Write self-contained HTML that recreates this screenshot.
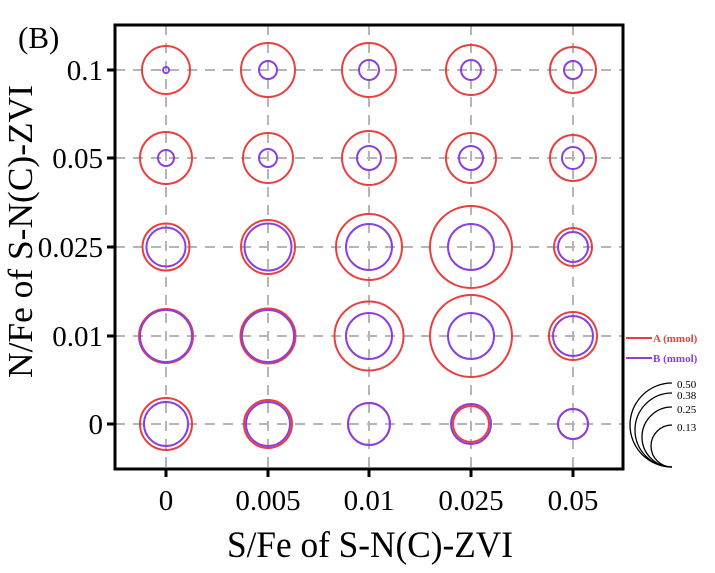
<!DOCTYPE html>
<html><head><meta charset="utf-8"><style>html,body{margin:0;padding:0;background:#fff}svg{display:block}text{font-family:"Liberation Serif",serif}</style></head>
<body>
<svg width="715" height="573" viewBox="0 0 715 573" xmlns="http://www.w3.org/2000/svg">
<rect width="715" height="573" fill="#fff"/>
<g stroke="#b5b5b5" stroke-width="2" stroke-dasharray="10,8">
<line x1="115" y1="70" x2="623" y2="70"/><line x1="115" y1="158" x2="623" y2="158"/><line x1="115" y1="247" x2="623" y2="247"/><line x1="115" y1="336" x2="623" y2="336"/><line x1="115" y1="424" x2="623" y2="424"/>
<line x1="166" y1="25" x2="166" y2="469"/><line x1="268" y1="25" x2="268" y2="469"/><line x1="369" y1="25" x2="369" y2="469"/><line x1="471" y1="25" x2="471" y2="469"/><line x1="573" y1="25" x2="573" y2="469"/>
</g>
<g fill="none" stroke-width="2">
<g stroke="#e8403f">
<circle cx="166" cy="70" r="24"/><circle cx="268" cy="70" r="27"/><circle cx="369" cy="70" r="27"/><circle cx="471" cy="70" r="25"/><circle cx="573" cy="70" r="23"/>
<circle cx="166" cy="158" r="26"/><circle cx="268" cy="158" r="25"/><circle cx="369" cy="158" r="27"/><circle cx="471" cy="158" r="25"/><circle cx="573" cy="158" r="23"/>
<circle cx="166" cy="247" r="23.5"/><circle cx="268" cy="247" r="27"/><circle cx="369" cy="247" r="33"/><circle cx="471" cy="247" r="41"/><circle cx="573" cy="247" r="19"/>
<circle cx="166" cy="336" r="27"/><circle cx="268" cy="336" r="27.5"/><circle cx="369" cy="336" r="34.5"/><circle cx="471" cy="336" r="41"/><circle cx="573" cy="336" r="24"/>
<circle cx="166" cy="424" r="26"/><circle cx="268" cy="424" r="24"/><circle cx="369" cy="424" r="21"/><circle cx="471" cy="424" r="18"/><circle cx="573" cy="424" r="15"/>
</g>
<g stroke="#8a3fe0">
<circle cx="166" cy="70" r="3"/><circle cx="268" cy="70" r="9"/><circle cx="369" cy="70" r="10"/><circle cx="471" cy="70" r="10"/><circle cx="573" cy="70" r="9"/>
<circle cx="166" cy="158" r="8"/><circle cx="268" cy="158" r="9"/><circle cx="369" cy="158" r="12"/><circle cx="471" cy="158" r="12"/><circle cx="573" cy="158" r="11"/>
<circle cx="166" cy="247" r="19.5"/><circle cx="268" cy="247" r="23.5"/><circle cx="369" cy="247" r="23"/><circle cx="471" cy="247" r="23"/><circle cx="573" cy="247" r="15"/>
<circle cx="166" cy="336" r="26"/><circle cx="268" cy="336" r="26"/><circle cx="369" cy="336" r="23"/><circle cx="471" cy="336" r="23"/><circle cx="573" cy="336" r="20"/>
<circle cx="166" cy="424" r="22"/><circle cx="268" cy="424" r="22"/><circle cx="369" cy="424" r="21"/><circle cx="471" cy="424" r="20"/><circle cx="573" cy="424" r="15"/>
</g>
</g>
<rect x="115" y="25" width="508" height="444" fill="none" stroke="#000" stroke-width="3"/>
<g stroke="#000" stroke-width="3">
<line x1="107" y1="70" x2="115" y2="70"/><line x1="107" y1="158" x2="115" y2="158"/><line x1="107" y1="247" x2="115" y2="247"/><line x1="107" y1="336" x2="115" y2="336"/><line x1="107" y1="424" x2="115" y2="424"/>
<line x1="166" y1="469" x2="166" y2="477"/><line x1="268" y1="469" x2="268" y2="477"/><line x1="369" y1="469" x2="369" y2="477"/><line x1="471" y1="469" x2="471" y2="477"/><line x1="573" y1="469" x2="573" y2="477"/>
</g>
<g font-size="29" fill="#000" text-anchor="end">
<text x="103" y="80">0.1</text><text x="103" y="168">0.05</text><text x="103" y="257">0.025</text><text x="103" y="346">0.01</text><text x="103" y="434">0</text>
</g>
<g font-size="29" fill="#000" text-anchor="middle">
<text x="166" y="510">0</text><text x="268" y="510">0.005</text><text x="369" y="510">0.01</text><text x="471" y="510">0.025</text><text x="573" y="510">0.05</text>
</g>
<text x="227" y="557" font-size="37" textLength="286" lengthAdjust="spacingAndGlyphs">S/Fe of S-N(C)-ZVI</text>
<text transform="translate(32,378) rotate(-90)" font-size="35" textLength="293" lengthAdjust="spacingAndGlyphs">N/Fe of S-N(C)-ZVI</text>
<text x="18" y="48" font-size="31">(B)</text>
<line x1="626" y1="338" x2="652" y2="338" stroke="#e8403f" stroke-width="2"/>
<text x="653" y="342" font-size="11" font-weight="bold" fill="#e8403f">A (mmol)</text>
<line x1="626" y1="358" x2="652" y2="358" stroke="#8a3fe0" stroke-width="2"/>
<text x="653" y="362" font-size="11" font-weight="bold" fill="#8a3fe0">B (mmol)</text>
<g fill="none" stroke="#000" stroke-width="1.3">
<path d="M672 467 A42 42 0 0 1 672 383"/>
<path d="M672 467 A37 37 0 0 1 672 393"/>
<path d="M672 467 A30 30 0 0 1 672 407"/>
<path d="M672 467 A21 21 0 0 1 672 425"/>
</g>
<g font-size="11" fill="#000">
<text x="677" y="388">0.50</text><text x="677" y="399">0.38</text><text x="677" y="413">0.25</text><text x="677" y="431">0.13</text>
</g>
</svg>
</body></html>
